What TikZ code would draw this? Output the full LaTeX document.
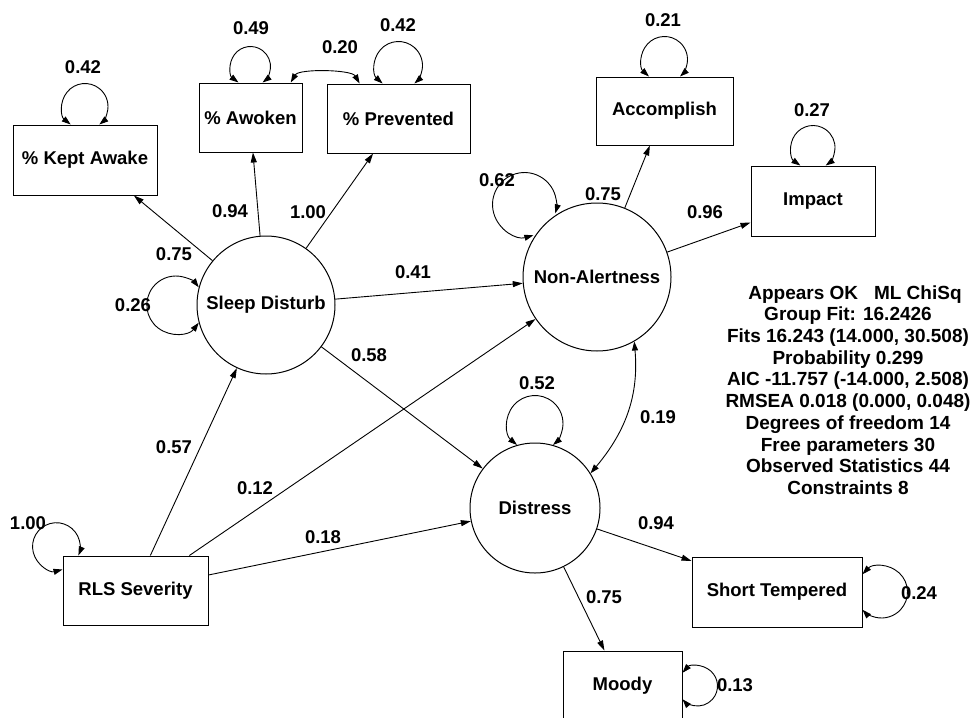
\documentclass[tikz,border=0pt]{standalone}
\usepackage{fontspec}
\setmainfont{Liberation Sans}
\usetikzlibrary{arrows.meta,calc}
\newcommand\vloopx[5]{%
  \draw[cov] ($(#1)+({#3*cos(#2)+#4*cos(#2+180-#5)},{#3*sin(#2)+#4*sin(#2+180-#5)})$)
    arc[start angle={#2+180-#5}, end angle={#2-180+#5}, radius=#4pt];}
\begin{document}
\begin{tikzpicture}[x=1pt,y=1pt,
  every node/.style={font=\bfseries\fontsize{18.5}{21.7}\selectfont},
  box/.style={draw, line width=1pt, rectangle, inner sep=0pt, minimum height=69pt},
  lat/.style={draw, line width=1pt, circle, inner sep=0pt},
  conn/.style={line width=0.9pt, -{Triangle[length=10pt,width=6pt]}},
  cov/.style={line width=0.9pt, {Triangle[length=9pt,width=6pt]}-{Triangle[length=9pt,width=6pt]}},
  lbl/.style={inner sep=0pt}
]
\path[use as bounding box, clip] (0,0) rectangle (976,-717);
\fill[white] (0,0) rectangle (976,-717);

% observed variables
\node[box, minimum width=144pt, minimum height=70pt] (ka) at (85,-160) {\% Kept Awake};
\node[box, minimum width=103pt] (aw) at (250.5,-117.5) {\% Awoken};
\node[box, minimum width=143pt] (pv) at (398.5,-118.5) {\% Prevented};
\node[box, minimum width=137pt, minimum height=68pt] (acc) at (664.5,-111) {Accomplish};
\node[box, minimum width=124pt, minimum height=70pt] (imp) at (813,-201) {Impact};
\node[box, minimum width=145pt] (rls) at (135.5,-590.5) {RLS Severity};
\node[box, minimum width=170pt, minimum height=70pt] (st) at (777,-592) {Short Tempered};
\node[box, minimum width=119pt, minimum height=70pt] (moody) at (622.5,-686) {Moody};

% latent variables
\node[lat, minimum size=138pt] (sd) at (266,-305) {Sleep Disturb};
\node[lat, minimum size=148pt] (na) at (597,-277) {Non-Alertness};
\node[lat, minimum size=130pt] (ds) at (535,-508) {Distress};

% paths
\draw[conn] (sd) -- (ka.-36.7);
\draw[conn] (sd) -- (aw.-86);
\draw[conn] (sd) -- (pv.-126.5);
\draw[conn] (sd) -- (na);
\draw[conn] (sd) -- (ds);
\draw[conn] (rls.67) -- (sd);
\draw[conn] (rls.33) -- (na);
\draw[conn] (rls.12) -- (ds);
\draw[conn] (na) -- (acc.-113);
\draw[conn] (na) -- (imp.-161.3);
\draw[conn] (ds) -- (st.160.6);
\draw[conn] (ds) -- (moody.117.9);

% covariances
\draw[cov] (na.-60) to[out=-85,in=50] (ds.32);
\draw[cov] (aw.41) to[out=60,in=120,looseness=0.6] (pv.138);

% variances
\vloopx{ka.north}{90}{18}{23}{38.5}
\vloopx{aw.north}{90}{16}{20}{36.9}
\vloopx{pv.north}{90}{18}{24}{41.4}
\vloopx{acc.north}{90}{17}{23}{42.3}
\vloopx{imp.north}{90}{18}{22}{35}
\vloopx{st.east}{0}{19}{26}{43}
\vloopx{moody.east}{0}{15}{20}{41.4}
\vloopx{sd.west}{180}{20.7}{29}{37.6}
\vloopx{ds.north}{90}{19}{28}{40}
\vloopx{na.135}{135}{28}{32}{29}
\draw[cov] ($(rls.north west)+(0,-14)$) arc[start angle=285, end angle=-22, radius=23.8pt];

% labels
\node[lbl] (v1) at (83,-67) {0.42};
\node[lbl] (v2) at (251,-28) {0.49};
\node[lbl] (c1) at (340,-47) {0.20};
\node[lbl] (v3) at (398,-25) {0.42};
\node[lbl] (v4) at (663,-20) {0.21};
\node[lbl] (v5) at (812,-110) {0.27};
\node[lbl] (v6) at (497,-180) {0.62};
\node[lbl] (p1) at (603,-194) {0.75};
\node[lbl] (p2) at (705,-212) {0.96};
\node[lbl] (p3) at (230,-211) {0.94};
\node[lbl] (p4) at (308,-212) {1.00};
\node[lbl] (p5) at (174,-254) {0.75};
\node[lbl] (v7) at (133,-305) {0.26};
\node[lbl] (p6) at (413,-272) {0.41};
\node[lbl] (p7) at (369,-355) {0.58};
\node[lbl] (v8) at (537,-383) {0.52};
\node[lbl] (c2) at (658,-417) {0.19};
\node[lbl] (p8) at (174,-447) {0.57};
\node[lbl] (p9) at (255,-488) {0.12};
\node[lbl] (p10) at (323,-537) {0.18};
\node[lbl] (v9) at (28,-523) {1.00};
\node[lbl] (p11) at (656,-523) {0.94};
\node[lbl] (p12) at (604,-597) {0.75};
\node[lbl] (v10) at (919,-593) {0.24};
\node[lbl] (v11) at (735,-685) {0.13};

% fit statistics
\node[lbl, align=center, font=\bfseries\fontsize{19}{21.7}\selectfont] (stats) at (848,-390) {\hspace*{14pt}Appears OK\ \ \ ML ChiSq\\
Group Fit: 16.2426\\
Fits 16.243 (14.000, 30.508)\\
Probability 0.299\\
AIC -11.757 (-14.000, 2.508)\\
RMSEA 0.018 (0.000, 0.048)\\
Degrees of freedom 14\\
Free parameters 30\\
Observed Statistics 44\\
Constraints 8};
\end{tikzpicture}
\end{document}
